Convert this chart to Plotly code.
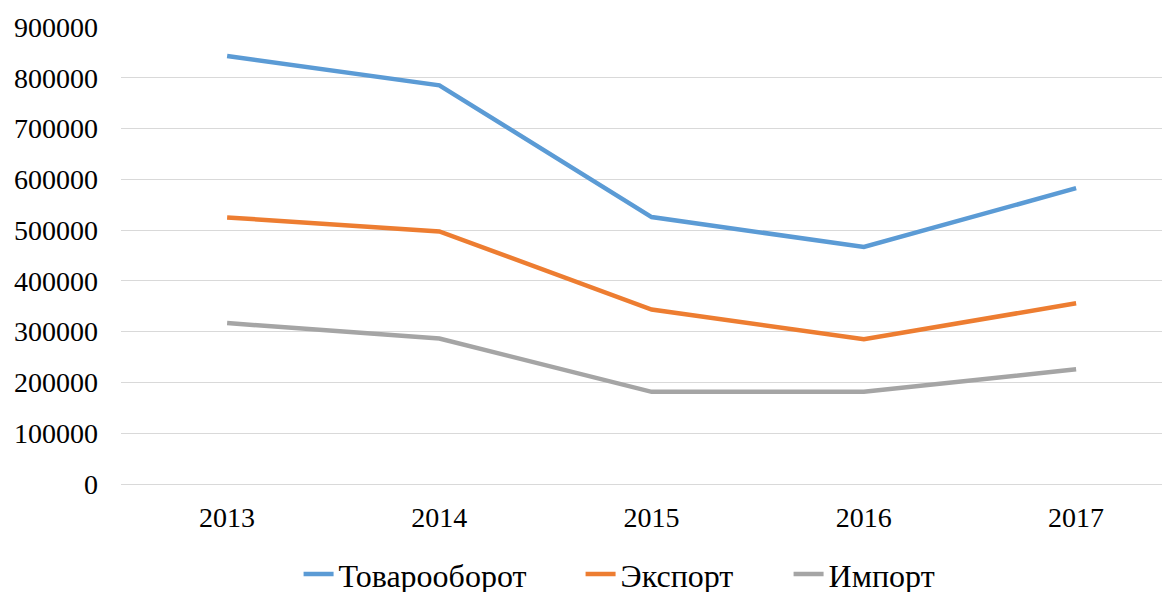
import plotly.graph_objects as go

years = ["2013", "2014", "2015", "2016", "2017"]
turnover = [843000, 785000, 525700, 466700, 582700]
export = [525000, 497500, 343500, 285000, 356000]
imports = [317000, 286500, 181500, 181500, 226000]

names = ["Товарооборот", "Экспорт", "Импорт"]
colors = ["#5B9BD5", "#ED7D31", "#A5A5A5"]
legend_widths = [237, 163, 110]
series = [turnover, export, imports]

xpos = list(range(len(years)))

fig = go.Figure()
for name, color, vals, lw in zip(names, colors, series, legend_widths):
    fig.add_trace(go.Scatter(
        x=xpos, y=vals, name=name, mode="lines",
        line=dict(color=color, width=4.5),
        legendwidth=lw,
    ))

font_family = "Times New Roman, Liberation Serif, serif"
fig.update_layout(
    width=1170, height=592,
    margin=dict(l=113, r=0, t=18.5, b=116, autoexpand=False),
    paper_bgcolor="white", plot_bgcolor="white",
    font=dict(family=font_family, size=28, color="#000000"),
    showlegend=True,
    legend=dict(
        orientation="h", x=0.168, xanchor="left", y=-0.1975, yanchor="middle",
        font=dict(family=font_family, size=32, color="#000000"),
        bgcolor="rgba(0,0,0,0)",
    ),
    xaxis=dict(
        range=[-0.5, 4.48], tickvals=xpos, ticktext=years,
        showgrid=False, zeroline=False, showline=False,
        ticks="", ticklabelstandoff=14,
        tickfont=dict(family=font_family, size=28, color="#000000"),
        fixedrange=True,
    ),
    yaxis=dict(
        range=[0, 900000], dtick=100000, tickformat="d",
        showgrid=True, gridcolor="#D9D9D9", gridwidth=1.4,
        zeroline=True, zerolinecolor="#D9D9D9", zerolinewidth=1.4,
        showline=False, ticks="", ticklabelstandoff=22,
        tickfont=dict(family=font_family, size=28, color="#000000"),
        fixedrange=True,
    ),
)

fig.write_html("out.html")
